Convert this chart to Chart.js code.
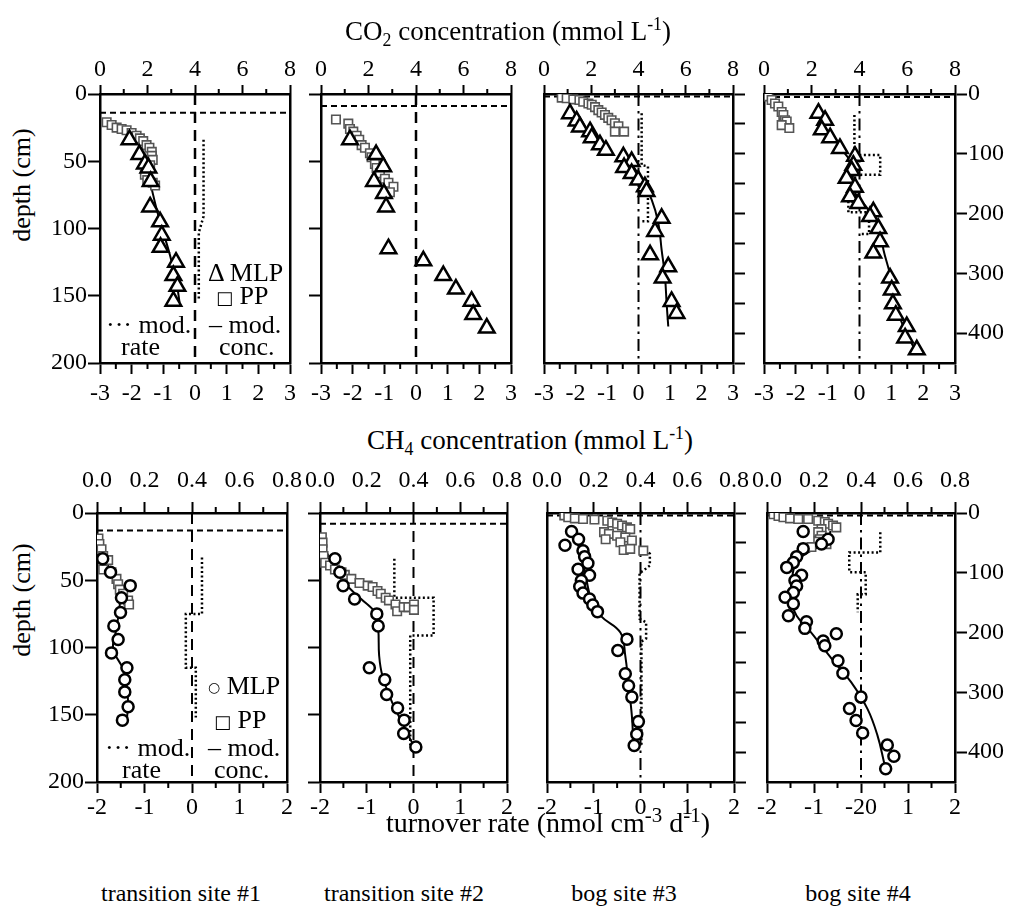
<!DOCTYPE html>
<html><head><meta charset="utf-8">
<script src="https://cdn.jsdelivr.net/npm/chart.js@4.4.1/dist/chart.umd.min.js"></script>
<style>
html,body{margin:0;padding:0;background:#fff;}
body{width:1016px;height:911px;position:relative;overflow:hidden;font-family:'Liberation Serif','Times New Roman',serif;color:#000;}
canvas{position:absolute;}
.t{position:absolute;white-space:nowrap;line-height:1;font-size:24px;}
.ttl{font-size:27px;}
.ttl2{font-size:28px;}
.ttl2 sup{font-size:75%;}
.lg{font-size:26px;}
.sym{font-family:'DejaVu Sans',sans-serif;}
sub,sup{font-size:66%;line-height:0;}
</style></head><body>
<script>
// ---------------- tick values / labels ----------------
const CO2_CONC_TICKS = [0, 2, 4, 6, 8];
const CO2_CONC_LABELS = ['0', '2', '4', '6', '8'];
const CO2_CONC_MINOR = [1, 3, 5, 7];
const CH4_CONC_TICKS = [0, 0.2, 0.4, 0.6, 0.8];
const CH4_CONC_LABELS = ['0.0', '0.2', '0.4', '0.6', '0.8'];
const CH4_CONC_MINOR = [0.1, 0.3, 0.5, 0.7];
const CO2_RATE_TICKS = [-3, -2, -1, 0, 1, 2, 3];
const CO2_RATE_LABELS = ['-3', '-2', '-1', '0', '1', '2', '3'];
const CO2_RATE_MINOR = [-2.5, -1.5, -0.5, 0.5, 1.5, 2.5];
const CH4_RATE_TICKS = [-2, -1, 0, 1, 2];
const CH4_RATE_LABELS = ['-2', '-1', '0', '1', '2'];
const CH4_RATE_LABELS_SITE4 = ['-2', '-1', '-20', '1', '2'];
const CH4_RATE_MINOR = [-1.5, -0.5, 0.5, 1.5];
const DEPTH_TICKS_TRANSITION = [0, 50, 100, 150, 200];
const DEPTH_TICKS_BOG = [0, 50, 100, 150, 200, 250, 300, 350, 400, 450];

// ---------------- CO2, transition site #1 ----------------
const co2S1MlpConc = [1.24, 1.66, 1.89, 2.04, 2.13, 2.11, 2.53, 2.60, 2.55, 3.20, 3.09, 3.26, 3.09];
const co2S1MlpDepth = [34, 45, 52, 55, 65, 84, 95, 105, 114, 125, 135, 143, 154];
const co2S1PpConc = [0.28, 0.49, 0.70, 0.91, 1.12, 1.33, 1.54, 1.68, 1.82, 1.96, 2.08, 2.18, 2.18, 2.22, 2.11, 1.96, 1.89, 1.99, 2.22, 2.32];
const co2S1PpDepth = [21, 23, 25, 26, 27, 29, 31, 33, 35, 38, 40, 43, 46, 49, 53, 57, 60, 64, 66, 68];
const co2S1ModConc = [1.45, 1.80, 2.10, 2.45, 2.95, 3.22, 3.35];
const co2S1ModDepth = [30, 45, 65, 90, 120, 140, 155];
const co2S1ModRate = [0.27, 0.27, 0.12, 0.12];
const co2S1ModRateDepth = [34, 91, 103, 152];
const co2S1WaterTable = 14;

// ---------------- CO2, transition site #2 ----------------
const co2S2MlpConc = [1.22, 2.32, 2.62, 2.23, 2.65, 2.74, 2.84, 4.31, 5.15, 5.68, 6.34, 6.41, 6.98];
const co2S2MlpDepth = [34, 45, 54, 65, 74, 84, 115, 124, 135, 145, 154, 164, 174];
const co2S2PpConc = [0.63, 1.15, 1.22, 1.36, 1.50, 1.61, 1.71, 1.85, 2.06, 2.13, 2.27, 2.34, 2.48, 2.69, 2.84, 3.05, 2.90];
const co2S2PpDepth = [19, 22, 26, 28, 31, 34, 38, 40, 44, 47, 52, 55, 59, 63, 66, 69, 73];
const co2S2WaterTable = 9;

// ---------------- CO2, bog site #3 ----------------
const co2S3MlpConc = [1.10, 1.38, 1.52, 1.95, 2.02, 2.37, 2.62, 3.36, 3.71, 3.39, 3.71, 3.99, 4.27, 4.34, 4.98, 4.70, 4.49, 5.26, 5.02, 5.40, 5.61];
const co2S3MlpDepth = [33, 45, 55, 63, 73, 85, 94, 105, 113, 123, 133, 144, 155, 163, 208, 230, 269, 289, 308, 347, 367];
const co2S3PpConc = [0.75, 0.96, 1.24, 1.50, 1.66, 1.88, 2.02, 2.16, 2.30, 2.44, 2.58, 2.72, 2.86, 3.00, 3.15, 3.00, 3.39];
const co2S3PpDepth = [6, 7, 9, 10, 13, 16, 18, 22, 27, 31, 35, 40, 44, 49, 54, 63, 63];
const co2S3ModConc = [3.40, 4.06, 4.56, 4.84, 4.98, 5.12, 5.19, 5.26];
const co2S3ModDepth = [100, 138, 177, 216, 261, 305, 350, 389];
const co2S3ModRate = [0.10, 0.10, 0.30, 0.30, 0.05];
const co2S3ModRateDepth = [32, 119, 121, 213, 213];
const co2S3WaterTable = 4;

// ---------------- CO2, bog site #4 ----------------
const co2S4MlpConc = [2.28, 2.56, 2.42, 2.77, 3.18, 3.81, 3.74, 3.67, 3.46, 3.81, 3.60, 3.95, 4.58, 4.44, 4.79, 4.86, 4.58, 5.28, 5.35, 5.40, 5.52, 5.98, 5.91, 6.40];
const co2S4MlpDepth = [32, 44, 60, 73, 91, 104, 119, 128, 141, 156, 172, 183, 197, 205, 225, 247, 266, 308, 328, 351, 370, 389, 408, 428];
const co2S4PpConc = [0.18, 0.32, 0.46, 0.60, 0.74, 0.81, 0.88, 0.95, 0.74, 1.06];
const co2S4PpDepth = [4, 10, 16, 21, 30, 35, 44, 46, 52, 57];
const co2S4ModConc = [3.20, 3.70, 3.75, 4.40, 4.85, 5.00, 5.30, 5.50, 5.85, 6.35];
const co2S4ModDepth = [90, 120, 160, 195, 225, 260, 305, 350, 390, 430];
const co2S4ModRate = [-0.16, -0.16, 0.65, 0.65, -0.14, -0.14, -0.35, -0.35, 0.30, 0.30, 0.0];
const co2S4ModRateDepth = [35, 102, 102, 135, 135, 180, 180, 198, 198, 234, 234];
const co2S4WaterTable = 5;

// ---------------- CH4, transition site #1 ----------------
const ch4S1MlpConc = [0.024, 0.057, 0.140, 0.103, 0.099, 0.071, 0.089, 0.061, 0.126, 0.117, 0.117, 0.131, 0.107];
const ch4S1MlpDepth = [34, 44, 54, 63, 74, 84, 94, 104, 115, 124, 133, 144, 154];
const ch4S1PpConc = [0.006, 0.010, 0.019, 0.026, 0.047, 0.026, 0.061, 0.082, 0.089, 0.096, 0.110, 0.131, 0.135];
const ch4S1PpDepth = [19, 23, 27, 32, 35, 42, 44, 49, 53, 57, 60, 65, 68];
const ch4S1ModConc = [0.026, 0.060, 0.096, 0.093, 0.082, 0.068, 0.110, 0.124, 0.131, 0.124];
const ch4S1ModDepth = [30, 45, 62, 72, 86, 101, 116, 128, 141, 156];
const ch4S1ModRate = [0.21, 0.21, -0.13, -0.13, 0.08, 0.08];
const ch4S1ModRateDepth = [33, 75, 75, 115, 115, 152];
const ch4S1WaterTable = 13;

// ---------------- CH4, transition site #2 ----------------
const ch4S2MlpConc = [0.064, 0.085, 0.099, 0.148, 0.243, 0.249, 0.211, 0.277, 0.285, 0.332, 0.360, 0.358, 0.410];
const ch4S2MlpDepth = [34, 44, 54, 64, 75, 84, 115, 124, 135, 145, 154, 164, 174];
const ch4S2PpConc = [0.008, 0.011, 0.011, 0.015, 0.022, 0.043, 0.064, 0.092, 0.106, 0.134, 0.169, 0.204, 0.225, 0.246, 0.260, 0.281, 0.295, 0.323, 0.330, 0.358, 0.378, 0.402, 0.402];
const ch4S2PpDepth = [18, 22, 27, 32, 37, 39, 42, 44, 46, 49, 52, 54, 55, 58, 60, 63, 65, 68, 73, 70, 70, 68, 72];
const ch4S2ModConc = [0.030, 0.064, 0.106, 0.176, 0.235, 0.249, 0.253, 0.267, 0.309, 0.358, 0.400];
const ch4S2ModDepth = [30, 39, 52, 64, 74, 86, 106, 121, 141, 158, 173];
const ch4S2ModRate = [-0.41, -0.41, 0.43, 0.43, -0.07, -0.07];
const ch4S2ModRateDepth = [34, 63, 63, 91, 91, 173];
const ch4S2WaterTable = 8;

// ---------------- CH4, bog site #3 ----------------
const ch4S3MlpConc = [0.105, 0.135, 0.077, 0.154, 0.161, 0.175, 0.133, 0.182, 0.147, 0.140, 0.154, 0.182, 0.196, 0.216, 0.342, 0.303, 0.335, 0.349, 0.363, 0.391, 0.384, 0.373];
const ch4S3MlpDepth = [31, 44, 54, 63, 73, 84, 94, 104, 113, 123, 134, 144, 154, 165, 211, 230, 269, 289, 308, 349, 370, 389];
const ch4S3PpConc = [0.074, 0.091, 0.119, 0.154, 0.203, 0.258, 0.279, 0.300, 0.321, 0.342, 0.356, 0.244, 0.265, 0.300, 0.335, 0.363, 0.251, 0.314, 0.328, 0.356, 0.412];
const ch4S3PpDepth = [4, 7, 9, 10, 11, 13, 16, 18, 21, 24, 27, 32, 35, 38, 41, 46, 44, 49, 62, 60, 63];
const ch4S3ModConc = [0.112, 0.140, 0.154, 0.168, 0.189, 0.230, 0.314, 0.335, 0.349, 0.363, 0.370];
const ch4S3ModDepth = [38, 60, 83, 110, 144, 172, 200, 239, 289, 339, 389];
const ch4S3ModRate = [0.0, 0.20, 0.20, 0.05, -0.02, -0.02, 0.12, 0.12, 0.02, 0.02];
const ch4S3ModRateDepth = [60, 68, 88, 97, 100, 177, 183, 210, 215, 390];
const ch4S3WaterTable = 4;

// ---------------- CH4, bog site #4 ----------------
const ch4S4MlpConc = [0.154, 0.260, 0.232, 0.154, 0.126, 0.112, 0.084, 0.147, 0.119, 0.126, 0.112, 0.077, 0.112, 0.091, 0.168, 0.161, 0.295, 0.239, 0.246, 0.302, 0.323, 0.400, 0.351, 0.379, 0.407, 0.512, 0.540, 0.505];
const ch4S4MlpDepth = [31, 44, 52, 60, 73, 83, 91, 104, 113, 122, 133, 141, 152, 172, 182, 193, 202, 214, 222, 247, 268, 308, 327, 347, 368, 388, 407, 428];
const ch4S4PpConc = [0.028, 0.049, 0.070, 0.098, 0.133, 0.175, 0.218, 0.246, 0.260, 0.281, 0.295, 0.232, 0.218, 0.232, 0.225, 0.218, 0.253, 0.189, 0.154];
const ch4S4PpDepth = [2, 5, 7, 9, 10, 10, 13, 15, 18, 21, 24, 27, 32, 38, 44, 48, 52, 57, 59];
const ch4S4ModConc = [0.270, 0.260, 0.218, 0.154, 0.119, 0.105, 0.105, 0.126, 0.175, 0.232, 0.288, 0.358, 0.428, 0.470, 0.498, 0.505];
const ch4S4ModDepth = [30, 46, 57, 71, 88, 116, 149, 172, 194, 222, 250, 283, 328, 372, 417, 430];
const ch4S4ModRate = [0.41, 0.41, -0.25, -0.25, 0.10, 0.10, -0.07, -0.07];
const ch4S4ModRateDepth = [32, 66, 66, 99, 99, 136, 136, 166];
const ch4S4WaterTable = 4;

const RATE_ZERO = 0;

// ---------------- rendering ----------------
const FONT = "'Liberation Serif','Times New Roman',serif";
const TICK_FS = 24;

function pts(xs, ys) { return xs.map((x, i) => ({ x: x, y: ys[i] })); }

function minorPlugin(topVals, botVals, lenTop, lenBot) {
  return {
    id: 'minorTicks',
    afterDraw(chart) {
      const ctx = chart.ctx, a = chart.chartArea;
      ctx.save();
      ctx.strokeStyle = '#000';
      ctx.lineWidth = 2;
      topVals.forEach(v => {
        const x = chart.scales.xc.getPixelForValue(v);
        ctx.beginPath(); ctx.moveTo(x, a.top); ctx.lineTo(x, a.top - lenTop); ctx.stroke();
      });
      botVals.forEach(v => {
        const x = chart.scales.xr.getPixelForValue(v);
        ctx.beginPath(); ctx.moveTo(x, a.bottom); ctx.lineTo(x, a.bottom + lenBot); ctx.stroke();
      });
      ctx.restore();
    }
  };
}

function xAxis(pos, min, max, ticks, labels, size, tl, pad) {
  return {
    type: 'linear', position: pos, min: min, max: max,
    afterBuildTicks: s => { s.ticks = ticks.map(v => ({ value: v })); },
    afterFit: s => { s.height = size; },
    grid: { display: true, drawOnChartArea: false, drawTicks: true, tickLength: tl, tickWidth: 2, color: '#000' },
    border: { display: true, color: '#000', width: 2.5 },
    ticks: { autoSkip: false, maxRotation: 0, padding: pad, color: '#000', font: { family: FONT, size: TICK_FS },
      callback: (v, i) => labels[i] }
  };
}

function yAxis(pos, max, ticks, showTicks, showLabels, size) {
  return {
    type: 'linear', position: pos, min: 0, max: max, reverse: true,
    afterBuildTicks: s => { s.ticks = ticks.map(v => ({ value: v })); },
    afterFit: s => { s.width = size; },
    grid: { display: true, drawOnChartArea: false, drawTicks: showTicks, tickLength: 12, tickWidth: 2, color: '#000' },
    border: { display: true, color: '#000', width: 2.5 },
    ticks: { display: showLabels, padding: 1, color: '#000', font: { family: FONT, size: TICK_FS },
      callback: (v, i) => String(ticks[i]) }
  };
}

function makePanel(p) {
  const TOPH = 45, BOTH = 45;
  const lw = p.leftW, rw = p.rightW;
  const cv = document.createElement('canvas');
  cv.width = lw + (p.R - p.L) + rw;
  cv.height = TOPH + (p.B - p.T) + BOTH;
  cv.style.left = (p.L - lw) + 'px';
  cv.style.top = (p.T - TOPH) + 'px';
  document.body.appendChild(cv);

  const isCO2 = p.gas === 'co2';
  const cMax = isCO2 ? 8 : 0.8;
  const rMin = isCO2 ? -3 : -2, rMax = isCO2 ? 3 : 2;
  const dMax = p.bog ? 450 : 200;
  const dTicks = p.bog ? DEPTH_TICKS_BOG : DEPTH_TICKS_TRANSITION;

  const ds = [];
  ds.push({ data: pts(p.mlpC, p.mlpD), xAxisID: 'xc', yAxisID: 'y',
    pointStyle: isCO2 ? 'triangle' : 'circle', pointRadius: isCO2 ? 9 : 5.5,
    borderColor: '#000', backgroundColor: '#fff', borderWidth: 2.5, showLine: false });
  ds.push({ data: pts(p.ppC, p.ppD), xAxisID: 'xc', yAxisID: 'y',
    pointStyle: 'rect', pointRadius: 6, borderColor: '#555', backgroundColor: '#fff', borderWidth: 1.6, showLine: false });
  if (p.modC) {
    ds.push({ data: pts(p.modC, p.modD), xAxisID: 'xc', yAxisID: 'y', showLine: true, tension: 0.4,
      borderColor: '#000', borderWidth: 2, pointRadius: 0, fill: false });
  }
  if (p.rate) {
    ds.push({ data: pts(p.rate, p.rateD), xAxisID: 'xr', yAxisID: 'y', showLine: true, tension: 0,
      borderColor: '#000', borderWidth: 2.5, borderDash: [2, 2.5], pointRadius: 0, fill: false });
  }
  // zero-rate reference line
  ds.push({ data: pts([RATE_ZERO, RATE_ZERO], [0, dMax]), xAxisID: 'xr', yAxisID: 'y', showLine: true,
    borderColor: '#000', borderWidth: isCO2 && !p.bog ? 2.5 : 2, borderDash: p.bog ? [12, 5, 2.5, 5] : [11, 7],
    pointRadius: 0, fill: false });
  // water table line
  ds.push({ data: pts([0, cMax], [p.wt, p.wt]), xAxisID: 'xc', yAxisID: 'y', showLine: true,
    borderColor: '#000', borderWidth: 2, borderDash: [6, 4], pointRadius: 0, fill: false });

  const topRow = isCO2;
  new Chart(cv, {
    type: 'scatter',
    data: { datasets: ds },
    options: {
      responsive: false, animation: false, events: [],
      layout: { padding: 0 },
      plugins: { legend: { display: false }, tooltip: { enabled: false } },
      scales: {
        xc: xAxis('top', 0, cMax, isCO2 ? CO2_CONC_TICKS : CH4_CONC_TICKS, isCO2 ? CO2_CONC_LABELS : CH4_CONC_LABELS,
          TOPH, topRow ? 9 : 11, topRow ? 1 : 7),
        xr: xAxis('bottom', rMin, rMax, isCO2 ? CO2_RATE_TICKS : CH4_RATE_TICKS, p.rateLabels,
          BOTH, 11, topRow ? 5 : 0),
        y: yAxis('left', dMax, dTicks, p.leftTicks, p.leftLabels, lw),
        y2: yAxis('right', dMax, dTicks, p.rightTicks, p.rightLabels, rw)
      }
    },
    plugins: [minorPlugin(isCO2 ? CO2_CONC_MINOR : CH4_CONC_MINOR, isCO2 ? CO2_RATE_MINOR : CH4_RATE_MINOR,
      topRow ? 5 : 6, 6)]
  });
}

const PANELS = [
  { gas: 'co2', bog: false, L: 100, T: 94, R: 290, B: 363, leftW: 60, rightW: 20, leftTicks: true, leftLabels: true, rightTicks: false, rightLabels: false,
    mlpC: co2S1MlpConc, mlpD: co2S1MlpDepth, ppC: co2S1PpConc, ppD: co2S1PpDepth, modC: co2S1ModConc, modD: co2S1ModDepth,
    rate: co2S1ModRate, rateD: co2S1ModRateDepth, wt: co2S1WaterTable, rateLabels: CO2_RATE_LABELS },
  { gas: 'co2', bog: false, L: 321, T: 94, R: 511, B: 363, leftW: 20, rightW: 20, leftTicks: true, leftLabels: false, rightTicks: false, rightLabels: false,
    mlpC: co2S2MlpConc, mlpD: co2S2MlpDepth, ppC: co2S2PpConc, ppD: co2S2PpDepth, modC: null, rate: null,
    wt: co2S2WaterTable, rateLabels: CO2_RATE_LABELS },
  { gas: 'co2', bog: true, L: 544, T: 94, R: 733, B: 363, leftW: 20, rightW: 20, leftTicks: false, leftLabels: false, rightTicks: true, rightLabels: false,
    mlpC: co2S3MlpConc, mlpD: co2S3MlpDepth, ppC: co2S3PpConc, ppD: co2S3PpDepth, modC: co2S3ModConc, modD: co2S3ModDepth,
    rate: co2S3ModRate, rateD: co2S3ModRateDepth, wt: co2S3WaterTable, rateLabels: CO2_RATE_LABELS },
  { gas: 'co2', bog: true, L: 764, T: 94, R: 955, B: 363, leftW: 20, rightW: 61, leftTicks: false, leftLabels: false, rightTicks: true, rightLabels: true,
    mlpC: co2S4MlpConc, mlpD: co2S4MlpDepth, ppC: co2S4PpConc, ppD: co2S4PpDepth, modC: co2S4ModConc, modD: co2S4ModDepth,
    rate: co2S4ModRate, rateD: co2S4ModRateDepth, wt: co2S4WaterTable, rateLabels: CO2_RATE_LABELS },
  { gas: 'ch4', bog: false, L: 97, T: 513, R: 289, B: 782, leftW: 60, rightW: 20, leftTicks: true, leftLabels: true, rightTicks: false, rightLabels: false,
    mlpC: ch4S1MlpConc, mlpD: ch4S1MlpDepth, ppC: ch4S1PpConc, ppD: ch4S1PpDepth, modC: ch4S1ModConc, modD: ch4S1ModDepth,
    rate: ch4S1ModRate, rateD: ch4S1ModRateDepth, wt: ch4S1WaterTable, rateLabels: CH4_RATE_LABELS },
  { gas: 'ch4', bog: false, L: 318, T: 513, R: 509, B: 782, leftW: 20, rightW: 20, leftTicks: true, leftLabels: false, rightTicks: false, rightLabels: false,
    mlpC: ch4S2MlpConc, mlpD: ch4S2MlpDepth, ppC: ch4S2PpConc, ppD: ch4S2PpDepth, modC: ch4S2ModConc, modD: ch4S2ModDepth,
    rate: ch4S2ModRate, rateD: ch4S2ModRateDepth, wt: ch4S2WaterTable, rateLabels: CH4_RATE_LABELS },
  { gas: 'ch4', bog: true, L: 545, T: 513, R: 736, B: 782, leftW: 20, rightW: 20, leftTicks: false, leftLabels: false, rightTicks: true, rightLabels: false,
    mlpC: ch4S3MlpConc, mlpD: ch4S3MlpDepth, ppC: ch4S3PpConc, ppD: ch4S3PpDepth, modC: ch4S3ModConc, modD: ch4S3ModDepth,
    rate: ch4S3ModRate, rateD: ch4S3ModRateDepth, wt: ch4S3WaterTable, rateLabels: CH4_RATE_LABELS },
  { gas: 'ch4', bog: true, L: 765, T: 513, R: 955, B: 782, leftW: 20, rightW: 61, leftTicks: false, leftLabels: false, rightTicks: true, rightLabels: true,
    mlpC: ch4S4MlpConc, mlpD: ch4S4MlpDepth, ppC: ch4S4PpConc, ppD: ch4S4PpDepth, modC: ch4S4ModConc, modD: ch4S4ModDepth,
    rate: ch4S4ModRate, rateD: ch4S4ModRateDepth, wt: ch4S4WaterTable, rateLabels: CH4_RATE_LABELS_SITE4 }
];

PANELS.forEach(makePanel);

// ---------------- texts ----------------
function addText(html, x, y, anchor, cls, extra) {
  const d = document.createElement('div');
  d.className = 't' + (cls ? ' ' + cls : '');
  d.innerHTML = html;
  d.style.left = x + 'px';
  d.style.top = y + 'px';
  d.style.transform = anchor === 'c' ? 'translate(-50%,-50%)' : 'translate(0,-50%)';
  if (extra) Object.assign(d.style, extra);
  document.body.appendChild(d);
  return d;
}
addText('CO<sub>2</sub> concentration (mmol L<sup>-1</sup>)', 508, 31, 'c', 'ttl');
addText('CH<sub>4</sub> concentration (mmol L<sup>-1</sup>)', 530, 440, 'c', 'ttl');
addText('turnover rate (nmol cm<sup>-3</sup> d<sup>-1</sup>)', 548, 823, 'c', 'ttl2');
addText('depth (cm)', 22, 185, 'c', 'lg', { transform: 'translate(-50%,-50%) rotate(-90deg)' });
addText('depth (cm)', 22, 600, 'c', 'lg', { transform: 'translate(-50%,-50%) rotate(-90deg)' });
addText('transition site #1', 181, 893, 'c');
addText('transition site #2', 404, 893, 'c');
addText('bog site #3', 624, 893, 'c');
addText('bog site #4', 858, 893, 'c');

// legends in site #1 panels
addText('&Delta; MLP', 208, 273, 'l', 'lg');
addText('<span class="sym" style="font-size:18px">&#9633;</span> PP', 216, 296, 'l', 'lg');
addText('&ndash; mod.', 209, 325, 'l', 'lg');
addText('conc.', 219, 347, 'l', 'lg');
addText('&middot;&middot;&middot; mod.', 106, 325, 'l', 'lg');
addText('rate', 121, 347, 'l', 'lg');

addText('<span class="sym" style="font-size:14px;vertical-align:2px">&#9675;</span> MLP', 208, 686, 'l', 'lg');
addText('<span class="sym" style="font-size:18px">&#9633;</span> PP', 214, 720, 'l', 'lg');
addText('&ndash; mod.', 208, 748, 'l', 'lg');
addText('conc.', 214, 770, 'l', 'lg');
addText('&middot;&middot;&middot; mod.', 105, 748, 'l', 'lg');
addText('rate', 122, 770, 'l', 'lg');
</script>
</body></html>
